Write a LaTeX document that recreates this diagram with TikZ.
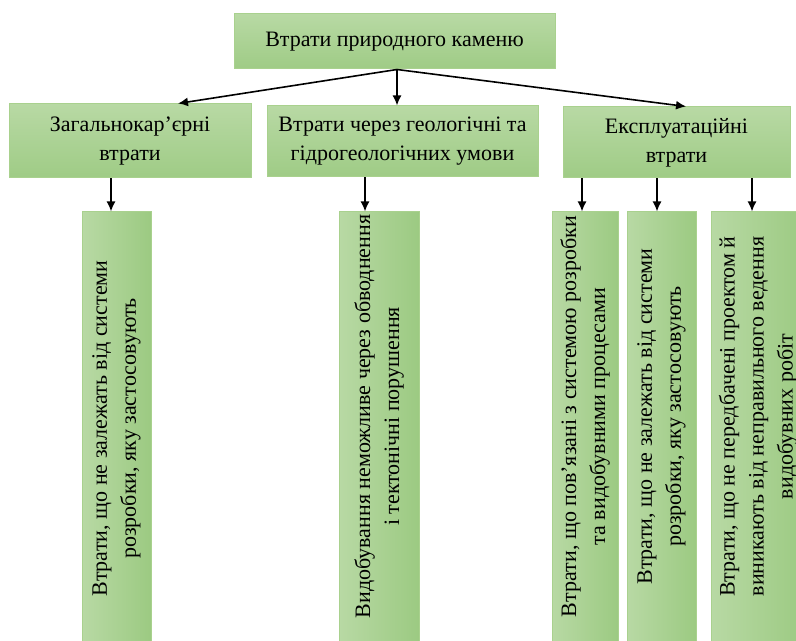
\documentclass[tikz,border=0pt]{standalone}
\usepackage{fontspec}
\setmainfont{Liberation Serif}
\usetikzlibrary{arrows.meta}

\definecolor{lightgr}{HTML}{B8D9A4}
\definecolor{darkgr}{HTML}{9CCA82}
\definecolor{edgegr}{HTML}{A9D18E}

\tikzset{
	topbox/.style={draw=edgegr, line width=0.5pt, top color=lightgr, bottom color=darkgr!90!lightgr, align=center, inner sep=0pt},
	lowbox/.style={draw=edgegr, line width=0.5pt, left color=lightgr, right color=darkgr, inner sep=0pt, minimum height=216.5pt},
	vtext/.style={rotate=90, align=center, inner sep=0pt},
	arr/.style={-{Latex[length=5pt,width=4.5pt]}, line width=0.8pt}
}

\begin{document}
\begin{tikzpicture}[x=0.5pt, y=-0.5pt, font=\fontsize{11}{14.5}\selectfont]
		\useasboundingbox (0, 0) rectangle (796, 641);

		% upper level
		\node[topbox, minimum width=160.5pt, minimum height=27.5pt] (root) at (394.5, 41.5) {Втрати природного каменю};

		\node[topbox, minimum width=121pt, minimum height=37pt] (gen) at (130, 141) {Загальнокар’єрні\\втрати};
		\node[topbox, minimum width=135.5pt, minimum height=35.5pt] (geo) at (402.5, 141.5) {Втрати через геологічні та\\гідрогеологічних умови};
		\node[topbox, minimum width=113.5pt, minimum height=35.5pt] (exp) at (676.5, 142.5) {Експлуатаційні\\втрати};

		% lower level
		\node[lowbox, minimum width=34.5pt] (b1) at (116.5, 428.5) {};
		\node[lowbox, minimum width=40pt] (b2) at (379, 428.5) {};
		\node[lowbox, minimum width=33pt] (b3) at (585, 428.5) {};
		\node[lowbox, minimum width=34.5pt] (b4) at (661.5, 428.5) {};
		\node[lowbox, minimum width=47pt] (b5) at (758, 428.5) {};

		\node[vtext] (t1) at ([yshift=0pt]b1.center) {Втрати, що не залежать від системи\\розробки, яку застосовують};
		\node[vtext] (t2) at ([yshift=6pt]b2.center) {Видобування неможливе через обводнення\\і тектонічні порушення};
		\node[vtext] (t3) at ([yshift=6pt]b3.center) {Втрати, що пов’язані з системою розробки\\та видобувними процесами};
		\node[vtext] (t4) at ([yshift=6pt]b4.center) {Втрати, що не залежать від системи\\розробки, яку застосовують};
		\node[vtext] (t5) at ([yshift=6pt]b5.center) {Втрати, що не передбачені проектом й\\виникають від неправильного ведення\\видобувних робіт};

		% arrows
		\draw[arr] ([xshift=1.25pt]root.south) -- ([xshift=24pt]gen.north);
		\draw[arr] ([xshift=1.25pt]root.south) -- ([xshift=1.25pt]root.south |- geo.north);
		\draw[arr] ([xshift=1.25pt]root.south) -- ([xshift=4.75pt]exp.north);

		\draw[arr] ([xshift=-2.75pt]b1.north |- gen.south) -- ([xshift=-2.75pt]b1.north);
		\draw[arr] ([xshift=-7pt]b2.north |- geo.south) -- ([xshift=-7pt]b2.north);
		\draw[arr] ([xshift=-1.5pt]b3.north |- exp.south) -- ([xshift=-1.5pt]b3.north);
		\draw[arr] ([xshift=-2.25pt]b4.north |- exp.south) -- ([xshift=-2.25pt]b4.north);
		\draw[arr] ([xshift=-3pt]b5.north |- exp.south) -- ([xshift=-3pt]b5.north);
	\end{tikzpicture}
\end{document}
